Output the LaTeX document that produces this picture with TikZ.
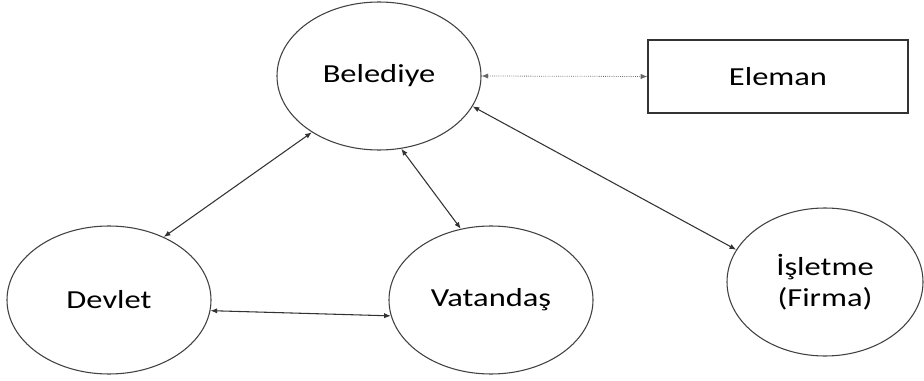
\documentclass[tikz,border=0pt]{standalone}
\usepackage{fontspec}
\setmainfont{Carlito}[FakeStretch=1.25]
\usepackage{tikz}
\usetikzlibrary{shapes.geometric,arrows.meta}
\tikzset{
    actor/.style={
           ellipse,
           draw=black!75, line width=0.8pt,
           minimum width=153pt,
           minimum height=111pt,
           inner sep=0pt,
           text centered,
           font=\fontsize{19.5}{23.4}\selectfont,
           },
    unit/.style={
           rectangle,
           draw=black!80, line width=0.9pt,
           minimum width=195pt,
           minimum height=54.75pt,
           inner sep=0pt,
           text centered,
           font=\fontsize{19.5}{23.4}\selectfont,
           },
    link/.style={
           <->, draw=black!80, line width=0.8pt,
           },
}

\begin{document}
\begin{tikzpicture}[x=0.75pt, y=-0.75pt, >={Latex[length=5pt,width=4pt]}]
    \useasboundingbox (0,0) rectangle (924,381);

    % Actors: the municipality in the middle
    \node[actor,    	% layout (defined above)
    anchor=center] (belediye) at (379,76)
    {Belediye};

    \node[unit,    	% layout (defined above)
    anchor=center] (eleman) at (778,76.5)
    {Eleman};

    \node[actor,    	% layout (defined above)
    anchor=center] (devlet) at (109,300)
    {Devlet};

    \node[actor,    	% layout (defined above)
    right of=devlet,
    node distance=286.5pt,
    anchor=center] (vatandas)
    {Vatandaş};

    \node[actor,    	% layout (defined above)
    minimum width=147pt,
    align=center,
    anchor=center] (isletme) at (825,282)
    {İşletme\\(Firma)};

    % draw the relations between the actors
    \path
        (belediye.east) edge[link, draw=black!60, line width=0.6pt, densely dotted] (eleman.west)
        (belediye.220)  edge[link] (devlet.49)
        (belediye.287)  edge[link] (vatandas.113)
        (devlet.354)    edge[link] (vatandas.189)
        (belediye.342)  edge[link] (isletme.160);
\end{tikzpicture}
\end{document}
